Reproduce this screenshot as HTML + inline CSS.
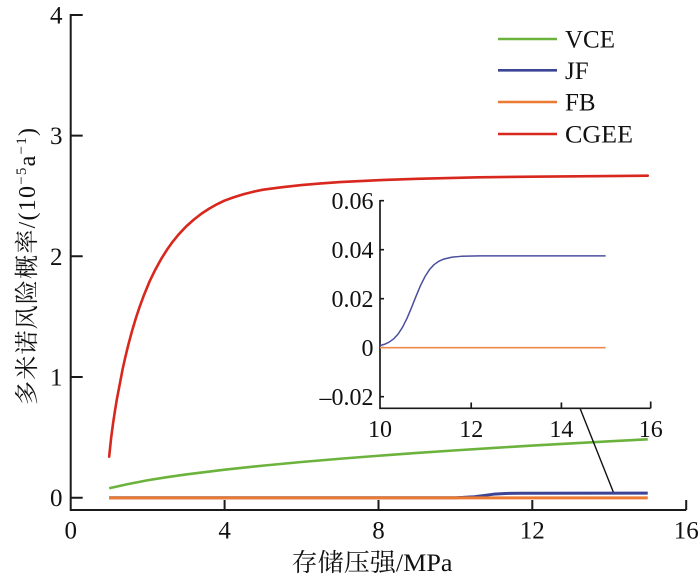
<!DOCTYPE html>
<html>
<head>
<meta charset="utf-8">
<style>
  html, body { margin: 0; padding: 0; background: #ffffff; font-family: "Liberation Serif", serif; }
  svg { display: block; }
  svg text { font-family: "Liberation Serif", "Noto Serif CJK SC", "Noto Sans CJK SC", serif; fill: #111; }
</style>
</head>
<body>
<svg width="700" height="578" viewBox="0 0 700 578" xmlns="http://www.w3.org/2000/svg">
  <rect width="700" height="578" fill="#ffffff"/>

  <!-- Main axes -->
  <g stroke="#1a1a1a" stroke-width="2" fill="none">
    <path d="M70.7,14 L70.7,510 L686.2,510"/>
    <path d="M70.7,497.7 H82.7 M70.7,377 H82.7 M70.7,256.3 H82.7 M70.7,135.6 H82.7 M70.7,15 H82.7"/>
    <path d="M224.6,510 V500 M378.5,510 V500 M532.3,510 V500 M686.2,510 V500"/>
  </g>

  <!-- Main y tick labels -->
  <g text-anchor="end">
    <text x="62.5" y="506" font-size="25" textLength="12.5" lengthAdjust="spacingAndGlyphs">0</text>
    <text x="62.5" y="385.5" font-size="25" textLength="12.5" lengthAdjust="spacingAndGlyphs">1</text>
    <text x="62.5" y="264.8" font-size="25" textLength="12.5" lengthAdjust="spacingAndGlyphs">2</text>
    <text x="62.5" y="144.1" font-size="25" textLength="12.5" lengthAdjust="spacingAndGlyphs">3</text>
    <text x="62.5" y="23.5" font-size="25" textLength="12.5" lengthAdjust="spacingAndGlyphs">4</text>
  </g>
  <!-- Main x tick labels -->
  <g text-anchor="middle">
    <text x="70.7" y="538.5" font-size="25" textLength="12.5" lengthAdjust="spacingAndGlyphs">0</text>
    <text x="224.6" y="538.5" font-size="25" textLength="12.5" lengthAdjust="spacingAndGlyphs">4</text>
    <text x="378.5" y="538.5" font-size="25" textLength="12.5" lengthAdjust="spacingAndGlyphs">8</text>
    <text x="532.3" y="538.5" font-size="25" textLength="25" lengthAdjust="spacingAndGlyphs">12</text>
    <text x="686.2" y="538.5" font-size="25" textLength="25" lengthAdjust="spacingAndGlyphs">16</text>
  </g>

  <!-- Axis titles -->
  <text x="372" y="571" font-size="25" text-anchor="middle" textLength="161" lengthAdjust="spacingAndGlyphs">存储压强/MPa</text>
  <text transform="translate(35,405) rotate(-90)" font-size="24" text-anchor="start" textLength="277" lengthAdjust="spacing">多米诺风险概率/(10<tspan font-size="15" dy="-9">−5</tspan><tspan dy="9">a</tspan><tspan font-size="15" dy="-9">−1</tspan><tspan dy="9">)</tspan></text>

  <!-- JF (blue) -->
  <polyline fill="none" stroke="#3c4496" stroke-width="3" stroke-linejoin="round"
    points="109.2,497.7 455.4,497.7 463.1,497.43 474.6,496.69 484.25,495.44 493.87,494.18 505.4,493.45 520.8,493.21 647.75,493.17"/>
  <!-- FB (orange) -->
  <line x1="109.2" y1="497.9" x2="647.75" y2="497.9" stroke="#ec7a30" stroke-width="3"/>
  <!-- VCE (green) -->
  <polyline fill="none" stroke="#6cb33e" stroke-width="2.6" stroke-linejoin="round"
    points="109.17,488.29 128.4,484.0 147.64,480.27 166.9,477.2 186.11,474.44 224.58,469.70 263.05,465.62 301.52,462.01 339.99,458.75 378.46,455.75 416.93,452.97 455.4,450.36 493.87,447.92 532.34,445.60 570.81,443.40 609.28,441.30 647.75,439.27"/>
  <!-- CGEE (red) -->
  <polyline fill="none" stroke="#d8271d" stroke-width="2.6" stroke-linejoin="round" stroke-linecap="round"
    points="109.17,456.66 111.09,438.2 113.02,423.71 114.94,410.9 116.86,399.21 119.71,384.4 122.63,369.15 125.33,357.1 128.41,344.41 132.25,330.2 136.10,317.37 139.95,305.9 143.79,295.53 149.5,281.6 155.33,269.58 161.1,259.1 166.88,249.90 172.65,241.8 178.42,234.69 186.11,226.5 193.80,219.61 201.5,213.6 209.19,208.62 216.9,204.3 224.58,200.54 234.2,197.1 243.82,194.14 253.4,191.7 263.05,189.67 282.3,187.2 301.52,185.09 320.8,183.4 339.99,182.07 378.46,180.14 416.93,178.81 478.48,177.36 532.34,176.64 647.75,175.67"/>

  <!-- Connector line -->
  <line x1="580" y1="408.3" x2="613.3" y2="492" stroke="#111" stroke-width="1.4"/>

  <!-- Inset axes -->
  <g stroke="#1a1a1a" stroke-width="1.7" fill="none">
    <path d="M380,200 L380,408.3 L650.7,408.3"/>
    <path d="M380,200.7 H384 M380,249.7 H384 M380,298.7 H384 M380,347.7 H384 M380,396.7 H384"/>
    <path d="M471.2,408.3 V402.5 M561.4,408.3 V402.5 M650.7,408.3 V401.5"/>
  </g>
  <g text-anchor="end">
    <text x="373.5" y="209" font-size="24" textLength="42" lengthAdjust="spacingAndGlyphs">0.06</text>
    <text x="373.5" y="258" font-size="24" textLength="42" lengthAdjust="spacingAndGlyphs">0.04</text>
    <text x="373.5" y="307" font-size="24" textLength="42" lengthAdjust="spacingAndGlyphs">0.02</text>
    <text x="373.5" y="356" font-size="24" textLength="12" lengthAdjust="spacingAndGlyphs">0</text>
    <text x="373.5" y="405" font-size="24" textLength="54" lengthAdjust="spacingAndGlyphs">–0.02</text>
  </g>
  <g text-anchor="middle">
    <text x="380" y="437" font-size="24" textLength="24" lengthAdjust="spacingAndGlyphs">10</text>
    <text x="471.2" y="437" font-size="24" textLength="24" lengthAdjust="spacingAndGlyphs">12</text>
    <text x="561.4" y="437" font-size="24" textLength="24" lengthAdjust="spacingAndGlyphs">14</text>
    <text x="650.7" y="437" font-size="24" textLength="24" lengthAdjust="spacingAndGlyphs">16</text>
  </g>
  <!-- Inset series -->
  <line x1="380" y1="347.7" x2="605.6" y2="347.7" stroke="#ee8a4e" stroke-width="1.6"/>
  <polyline fill="none" stroke="#4a4f9e" stroke-width="1.5" stroke-linejoin="round"
    points="380,345.59 384.51,344.27 389.02,342.19 393.54,338.95 398.05,334.10 402.56,327.22 407.07,318.20 411.58,307.47 416.10,296.05 420.61,285.32 425.12,276.40 429.63,269.42 434.14,264.57 438.66,261.34 443.17,259.26 452.19,257.12 461.22,256.31 479.26,255.87 605.6,255.83"/>

  <!-- Legend -->
  <g stroke-width="2.6">
    <line x1="498" y1="39" x2="557" y2="39" stroke="#6cb33e"/>
    <line x1="498" y1="70.3" x2="557" y2="70.3" stroke="#3c4496"/>
    <line x1="498" y1="102" x2="557" y2="102" stroke="#ec7a30"/>
    <line x1="498" y1="134" x2="557" y2="134" stroke="#d8271d"/>
  </g>
  <g>
    <text x="565" y="47.5" font-size="25" textLength="50" lengthAdjust="spacingAndGlyphs">VCE</text>
    <text x="565" y="79" font-size="25" textLength="23.6" lengthAdjust="spacingAndGlyphs">JF</text>
    <text x="565" y="110.5" font-size="25" textLength="30.6" lengthAdjust="spacingAndGlyphs">FB</text>
    <text x="565" y="142.5" font-size="25" textLength="68" lengthAdjust="spacingAndGlyphs">CGEE</text>
  </g>
</svg>
</body>
</html>
